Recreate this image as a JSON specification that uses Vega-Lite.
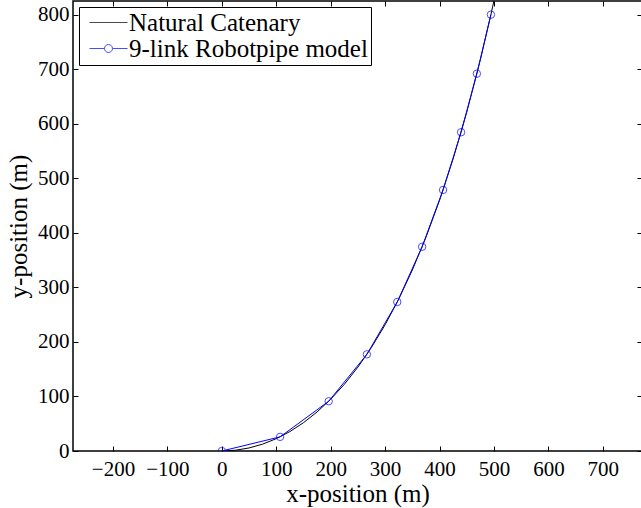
{
  "$schema": "https://vega.github.io/schema/vega-lite/v6.json",
  "width": 569,
  "height": 450,
  "autosize": {"type": "none"},
  "padding": {"left": 73, "top": 1, "right": 0, "bottom": 57},
  "background": "white",
  "config": {
    "view": {"stroke": "black", "strokeWidth": 1.5},
    "font": "serif",
    "axis": {
      "domain": false,
      "grid": false,
      "tickColor": "black",
      "tickSize": -5,
      "tickWidth": 1,
      "labelFont": "serif",
      "labelFontSize": 21,
      "labelColor": "black",
      "titleFont": "serif",
      "titleFontSize": 25,
      "titleFontWeight": "normal",
      "titleColor": "black"
    },
    "legend": {
      "orient": "top-left",
      "offset": 6,
      "strokeColor": "black",
      "fillColor": "white",
      "padding": 3,
      "cornerRadius": 0,
      "labelFont": "serif",
      "labelFontSize": 25,
      "labelColor": "black",
      "labelLimit": 0,
      "labelOffset": 8,
      "symbolOffset": 14,
      "rowPadding": 0,
      "symbolStrokeWidth": 1
    }
  },
  "datasets": {
    "pts": [
      {"series": "Natural Catenary", "idx": 0, "x": 0, "y": 0},
      {"series": "Natural Catenary", "idx": 1, "x": 25, "y": 1.39},
      {"series": "Natural Catenary", "idx": 2, "x": 50, "y": 5.58},
      {"series": "Natural Catenary", "idx": 3, "x": 75, "y": 12.62},
      {"series": "Natural Catenary", "idx": 4, "x": 100, "y": 22.59},
      {"series": "Natural Catenary", "idx": 5, "x": 125, "y": 35.63},
      {"series": "Natural Catenary", "idx": 6, "x": 150, "y": 51.88},
      {"series": "Natural Catenary", "idx": 7, "x": 175, "y": 71.56},
      {"series": "Natural Catenary", "idx": 8, "x": 200, "y": 94.9},
      {"series": "Natural Catenary", "idx": 9, "x": 225, "y": 122.19},
      {"series": "Natural Catenary", "idx": 10, "x": 250, "y": 153.78},
      {"series": "Natural Catenary", "idx": 11, "x": 275, "y": 190.05},
      {"series": "Natural Catenary", "idx": 12, "x": 300, "y": 231.44},
      {"series": "Natural Catenary", "idx": 13, "x": 325, "y": 278.48},
      {"series": "Natural Catenary", "idx": 14, "x": 350, "y": 331.74},
      {"series": "Natural Catenary", "idx": 15, "x": 375, "y": 391.88},
      {"series": "Natural Catenary", "idx": 16, "x": 400, "y": 459.64},
      {"series": "Natural Catenary", "idx": 17, "x": 425, "y": 535.87},
      {"series": "Natural Catenary", "idx": 18, "x": 450, "y": 621.49},
      {"series": "Natural Catenary", "idx": 19, "x": 475, "y": 717.6},
      {"series": "Natural Catenary", "idx": 20, "x": 494.4, "y": 800},
      {"series": "Natural Catenary", "idx": 21, "x": 500, "y": 825.3},
      {"series": "9-link Robotpipe model", "idx": 0, "x": 0, "y": 0},
      {"series": "9-link Robotpipe model", "idx": 1, "x": 107.0, "y": 25.9},
      {"series": "9-link Robotpipe model", "idx": 2, "x": 196.3, "y": 91.2},
      {"series": "9-link Robotpipe model", "idx": 3, "x": 266.5, "y": 177.2},
      {"series": "9-link Robotpipe model", "idx": 4, "x": 322.3, "y": 273.2},
      {"series": "9-link Robotpipe model", "idx": 5, "x": 368.0, "y": 374.4},
      {"series": "9-link Robotpipe model", "idx": 6, "x": 406.5, "y": 478.6},
      {"series": "9-link Robotpipe model", "idx": 7, "x": 439.6, "y": 584.4},
      {"series": "9-link Robotpipe model", "idx": 8, "x": 468.6, "y": 691.7},
      {"series": "9-link Robotpipe model", "idx": 9, "x": 494.4, "y": 800}
    ]
  },
  "data": {"name": "pts"},
  "resolve": {"axis": {"x": "independent", "y": "independent"}},
  "layer": [
    {
      "mark": {"type": "line", "strokeWidth": 1, "clip": true},
      "encoding": {
        "x": {
          "field": "x", "type": "quantitative",
          "scale": {"domain": [-273.5, 772], "nice": false, "zero": false},
          "axis": {
            "orient": "bottom", "title": "x-position (m)",
            "values": [-200, -100, 0, 100, 200, 300, 400, 500, 600, 700],
            "format": "d", "labelPadding": 12, "titlePadding": 2,
            "encode": {
              "labels": {"update": {"font": {"value": "Liberation Serif"}, "fontWeight": {"value": "normal"}}},
              "title": {"update": {"font": {"value": "Liberation Serif"}, "fontWeight": {"value": "normal"}}}
            }
          }
        },
        "y": {
          "field": "y", "type": "quantitative",
          "scale": {"domain": [0, 825], "nice": false, "zero": false},
          "axis": {
            "orient": "left", "title": "y-position (m)",
            "values": [0, 100, 200, 300, 400, 500, 600, 700, 800],
            "format": "d", "labelPadding": 9, "titlePadding": 6,
            "encode": {
              "labels": {"update": {"font": {"value": "Liberation Serif"}, "fontWeight": {"value": "normal"}}},
              "title": {"update": {"font": {"value": "Liberation Serif"}, "fontWeight": {"value": "normal"}}}
            }
          }
        },
        "color": {
          "field": "series", "type": "nominal",
          "scale": {"domain": ["Natural Catenary", "9-link Robotpipe model"], "range": ["#000000", "#0000ff"]},
          "legend": {"title": null}
        },
        "order": {"field": "idx", "type": "quantitative"}
      }
    },
    {
      "transform": [{"filter": "datum.series === '9-link Robotpipe model'"}],
      "mark": {"type": "point", "shape": "circle", "filled": false, "size": 55, "strokeWidth": 1, "color": "#0000ff", "clip": true},
      "encoding": {
        "x": {"field": "x", "type": "quantitative", "axis": null},
        "y": {"field": "y", "type": "quantitative", "axis": null}
      }
    },
    {
      "transform": [{"filter": "false"}],
      "mark": {"type": "point", "filled": false, "strokeWidth": 1},
      "encoding": {
        "x": {"field": "x", "type": "quantitative", "axis": {"orient": "top", "labels": false, "title": null, "values": [-200, -100, 0, 100, 200, 300, 400, 500, 600, 700]}},
        "y": {"field": "y", "type": "quantitative", "axis": {"orient": "right", "labels": false, "title": null, "values": [0, 100, 200, 300, 400, 500, 600, 700, 800]}},
        "color": {"field": "series", "type": "nominal", "legend": {"title": null}},
        "shape": {
          "field": "series", "type": "nominal",
          "scale": {"domain": ["Natural Catenary", "9-link Robotpipe model"], "range": ["M-2,0L2,0", "M-2,0L-0.42,0M0.42,0L2,0M-0.42,0A0.42,0.42 0 1,1 0.42,0A0.42,0.42 0 1,1 -0.42,0"]},
          "legend": {"title": null, "symbolSize": 361}
        }
      }
    }
  ]
}
